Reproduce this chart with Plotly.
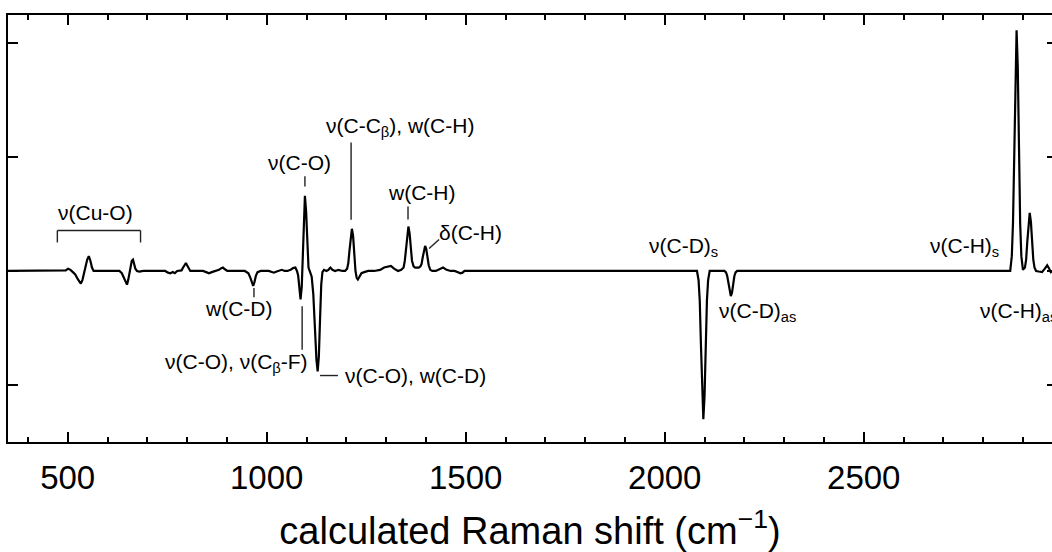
import plotly.graph_objects as go

# Calculated difference Raman spectrum
shift_cm = [
    350, 490, 495, 501, 507, 513, 519, 525, 530, 533, 537, 541, 545, 549, 553, 557, 561, 565, 575,
    630, 636, 641, 645, 649, 652, 655, 658, 661, 664, 667, 670, 674, 680, 690,
    745, 752, 758, 764, 769, 775, 786, 790, 794, 797, 800, 804, 808, 815,
    840, 848, 855, 862, 870, 880, 886, 890, 895, 901,
    945, 954, 959, 963, 966, 969, 973, 977, 985,
    1005, 1012, 1018, 1025, 1032, 1038, 1045, 1052, 1060, 1066, 1072,
    1076, 1079, 1082, 1085, 1088, 1090, 1093, 1096, 1099, 1102, 1105, 1109,
    1113, 1117, 1121, 1125, 1128, 1131, 1134, 1137, 1140, 1144, 1150, 1155, 1160, 1165, 1172, 1180, 1190, 1197,
    1202, 1205, 1208, 1211, 1214, 1217, 1220, 1223, 1226, 1229, 1233, 1238, 1245, 1255, 1270,
    1285, 1295, 1305, 1312, 1320, 1330, 1338,
    1344, 1347, 1350, 1353, 1356, 1359, 1362, 1365, 1369, 1373, 1377,
    1382, 1386, 1389, 1392, 1395, 1398, 1401, 1404, 1407, 1411, 1416, 1425, 1435, 1443, 1452, 1462, 1472,
    1480, 1487, 1492, 1497, 1505,
    2081, 2085, 2088, 2091, 2094, 2097, 2100, 2103, 2106, 2109, 2113,
    2150, 2154, 2157, 2160, 2163, 2166, 2169, 2172, 2175, 2178, 2182,
    2868, 2872, 2875, 2878, 2881, 2884, 2887, 2890, 2893, 2896, 2900,
    2905, 2908, 2911, 2914, 2917, 2920, 2923, 2926, 2929, 2933, 2940, 2948, 2955, 2961, 2966, 2970, 2975, 2990,
]
intensity = [
    0, 0, 0.005, 0.02, 0.01, -0.01, -0.03, -0.07, -0.10, -0.11, -0.08, -0.02, 0.04, 0.10, 0.13, 0.09, 0.03, 0.0, 0.0,
    0.0, -0.02, -0.06, -0.10, -0.12, -0.08, -0.01, 0.05, 0.09, 0.10, 0.07, 0.02, 0.0, -0.005, 0.0,
    0.0, -0.015, -0.02, -0.01, -0.02, 0.0, 0.005, 0.03, 0.06, 0.07, 0.05, 0.02, 0.0, 0.0,
    0.0, -0.01, -0.02, -0.01, 0.0, 0.01, 0.025, 0.03, 0.015, 0.0,
    0.0, -0.02, -0.06, -0.11, -0.13, -0.10, -0.04, -0.01, 0.0,
    0.0, -0.01, -0.015, -0.005, 0.005, 0.01, 0.0, 0.0, 0.01, 0.025, 0.03,
    0.0, -0.04, -0.13, -0.25, -0.14, 0.05, 0.45, 0.66, 0.52, 0.20, 0.03, -0.01,
    -0.05, -0.20, -0.50, -0.78, -0.88, -0.75, -0.42, -0.12, -0.01, 0.01, 0.0, 0.01, 0.03, 0.01, 0.0, 0.01, 0.0, 0.0,
    0.02, 0.07, 0.18, 0.31, 0.37, 0.31, 0.15, 0.0, -0.06, -0.075, -0.05, -0.02, -0.01, 0.0, 0.0,
    0.01, 0.03, 0.04, 0.045, 0.02, 0.0, 0.01,
    0.03, 0.09, 0.20, 0.33, 0.39, 0.33, 0.20, 0.09, 0.04, 0.03, 0.03,
    0.03, 0.04, 0.06, 0.12, 0.19, 0.22, 0.19, 0.11, 0.05, 0.01, 0.0, 0.0, 0.02, 0.03, 0.01, 0.0, 0.0,
    -0.01, -0.02, -0.015, 0.0, 0.0,
    0.0, -0.08, -0.26, -0.65, -1.10, -1.30, -1.10, -0.65, -0.26, -0.08, 0.0,
    0.0, -0.013, -0.044, -0.11, -0.19, -0.22, -0.19, -0.11, -0.044, -0.013, 0.0,
    0.0, 0.13, 0.42, 1.06, 1.79, 2.11, 1.79, 1.06, 0.42, 0.13, 0.01,
    0.03, 0.10, 0.26, 0.43, 0.51, 0.43, 0.26, 0.10, 0.03, 0.0, -0.005, -0.01, 0.02, 0.05, 0.02, -0.01, 0.0, 0.0,
]

x_ticks = [500, 1000, 1500, 2000, 2500]
y_ticks = [-1, 0, 1, 2]

# band labels: (text, x, y, xanchor)
label_text = [
    "ν(Cu-O)", "ν(C-O)", "w(C-D)", "ν(C-O), ν(C<sub>β</sub>-F)", "ν(C-O), w(C-D)",
    "ν(C-C<sub>β</sub>), w(C-H)", "w(C-H)", "δ(C-H)",
    "ν(C-D)<sub>s</sub>", "ν(C-D)<sub>as</sub>", "ν(C-H)<sub>s</sub>", "ν(C-H)<sub>as</sub>",
]
label_x = [569, 1082, 928, 925, 1192, 1335, 1388, 1428, 1955, 2131, 2662, 2787]
label_y = [0.513, 0.95, -0.33, -0.81, -0.917, 1.267, 0.684, 0.338, 0.206, -0.364, 0.206, -0.364]
label_anchor = ["center", "center", "center", "center", "left", "center", "center", "left",
                "left", "left", "left", "left"]

# leader lines: (x0, y0, x1, y1)
leader_lines = [
    (474, 0.25, 474, 0.355), (474, 0.355, 683, 0.355), (683, 0.355, 683, 0.25),
    (1096, 0.83, 1096, 0.74),
    (968, -0.15, 968, -0.23),
    (1089, -0.31, 1089, -0.69),
    (1134, -0.917, 1179, -0.917),
    (1212, 1.127, 1212, 0.45),
    (1355, 0.566, 1355, 0.452),
    (1408, 0.197, 1433, 0.276),
]

FONT = "Arial, Liberation Sans, Helvetica, sans-serif"

fig = go.Figure()
fig.add_trace(go.Scatter(x=shift_cm, y=intensity, mode="lines",
                         line=dict(color="black", width=2.2), showlegend=False,
                         hoverinfo="skip"))
fig.add_trace(go.Scatter(x=[None], y=[None], yaxis="y2", showlegend=False, hoverinfo="skip"))

for t, x, y, a in zip(label_text, label_x, label_y, label_anchor):
    fig.add_annotation(x=x, y=y, xref="x", yref="y", text=t, showarrow=False,
                       xanchor=a, yanchor="middle",
                       font=dict(family=FONT, size=21, color="black"))

for (x0, y0, x1, y1) in leader_lines:
    fig.add_shape(type="line", x0=x0, y0=y0, x1=x1, y1=y1, xref="x", yref="y",
                  line=dict(color="#222", width=1.4))

fig.update_layout(
    width=1052, height=552,
    margin=dict(l=8, r=0, t=15, b=110),
    paper_bgcolor="white", plot_bgcolor="white",
    font=dict(family=FONT, color="black"),
    xaxis=dict(
        range=[350, 2973], tickvals=x_ticks, ticks="inside", ticklen=10, tickwidth=2,
        tickcolor="black", showline=True, linewidth=2, linecolor="black", mirror="ticks",
        showgrid=False, zeroline=False, automargin=False, ticklabelstandoff=5,
        minor=dict(dtick=100, tick0=0, ticks="inside", ticklen=5, tickwidth=1.5, tickcolor="black"),
        tickfont=dict(size=33, family=FONT, color="black"),
        title=dict(text="calculated Raman shift (cm<sup>−1</sup>)",
                   font=dict(size=38, family=FONT, color="black"), standoff=26),
    ),
    yaxis=dict(
        range=[-1.5, 2.245], tickvals=y_ticks, ticks="inside", ticklen=10, tickwidth=2,
        tickcolor="black", showline=True, linewidth=2, linecolor="black", mirror=False,
        showticklabels=False, showgrid=False, zeroline=False, automargin=False,
    ),
    yaxis2=dict(
        range=[-1.5, 2.245], tickvals=y_ticks, ticks="inside", ticklen=5, tickwidth=2,
        tickcolor="black", showline=False, overlaying="y", side="right",
        showticklabels=False, showgrid=False, zeroline=False, automargin=False,
    ),
)

fig.write_html("out.html")
